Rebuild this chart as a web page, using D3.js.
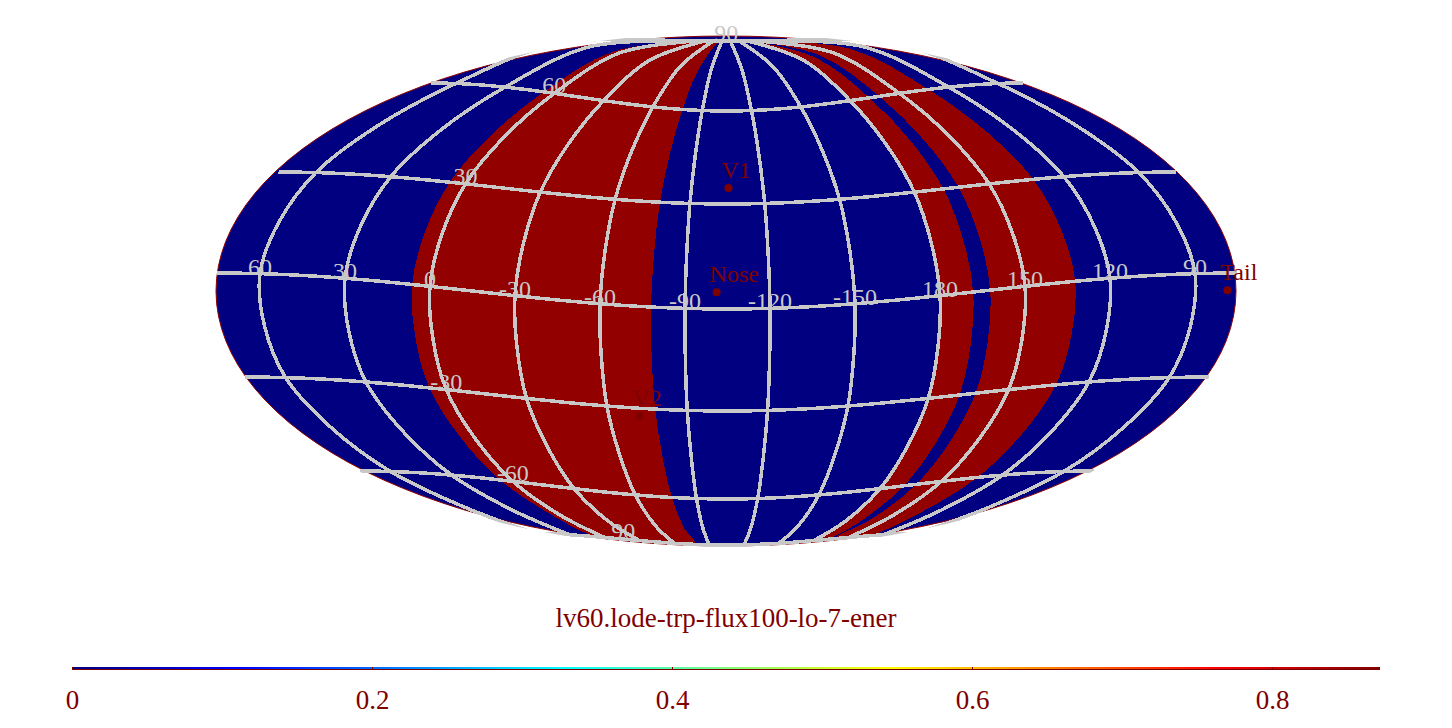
<!DOCTYPE html>
<html>
<head>
<meta charset="utf-8">
<script src="https://cdn.jsdelivr.net/npm/d3@7"></script>
<style>
  html, body { margin: 0; padding: 0; background: #fff; }
  svg { display: block; }
  text { font-family: "Liberation Serif", serif; }
</style>
</head>
<body>
<svg></svg>
<script>
// Sky map values
const centerLon = -105;
const lonTicks = [60, 30, 0, -30, -60, -90, -120, -150, 180, 150, 120, 90];
const latTicks = [90, 60, 30, -30, -60, -90];
const latTickLon = [-105, 0, 0, 0, 0, -16];
const latTickNames = ["90", "60", "30", "-30", "-60", "90"];
const latLines = [90, 60, 30, 0, -30, -60, -90];

// red (high) bands, as lon pairs
const bandFrom = [6.3, 180, 162.3];
const bandTo = [-78, 168.3, 132.3];

// markers
const markerNames = ["Nose", "Tail", "V1", "V2"];
const markerLon = [-101.1, 78, -105.5, -71.6];
const markerLat = [4.7, -4.9, 35, -32.6];

const gridLat = [90, 75, 60, 45, 30, 15, 0, -15, -30, -45, -60, -75, -90];
const gridNarrow = [0.1, 0.36, 0.58, 0.75, 0.88, 0.96, 1, 0.99, 0.945, 0.85, 0.72, 0.56, 0.41];
const gridRow = [41, 70, 111, 156, 204, 256, 309, 361, 411, 457, 499, 529, 545];
const gridDrop = [0, 27, 28, 30, 32, 34, 36, 35, 34, 31, 28, 22, 12];

// Colorbar values
const barTicks = [0, 0.2, 0.4, 0.6, 0.8];
const barMax = 0.872;
const jetColors = ["#00007f", "#0000ff", "#007fff", "#00ffff", "#7fff7f", "#ffff00", "#ff7f00", "#ff0000", "#7f0000"];

const title = "lv60.lode-trp-flux100-lo-7-ener";

// Set SVG attributes as variables
const width = 1452;
const height = 728;
const cx = 726;
const cy = 291;
const rx = 510;
const ry = 255;
const gridShift = 1.5;
const darkRed = "#800000";
const gridGray = "#c8c8c8";

const svg = d3.select("svg").attr("width", width).attr("height", height);

// Scales: lon offset from map centre to px, lat to warp values
const xScale = d3.scaleLinear().domain([-180, 180]).range([gridShift - rx, gridShift + rx]);
const narrow = d3.scaleLinear().domain(gridLat).range(gridNarrow);
const row = d3.scaleLinear().domain(gridLat).range(gridRow);
const drop = d3.scaleLinear().domain(gridLat).range(gridDrop);

function offset(lon) {
  let u = centerLon - lon;
  while (u > 180) u -= 360;
  while (u < -180) u += 360;
  return u;
}

// lat lines sag like a cosine across the map
function place(u, lat) {
  const bend = (1 - Math.cos(u * Math.PI / 180)) / 2;
  return [cx + xScale(u) * narrow(lat), row(lat) - drop(lat) * bend];
}

const line = d3.line().curve(d3.curveCatmullRom);

const meridian = u => gridLat.map(lat => place(u, lat));
const parallel = lat => d3.range(-180, 181, 15).map(u => place(u, lat));

const defs = svg.append("defs");
defs.append("clipPath").attr("id", "sky")
  .append("ellipse").attr("cx", cx).attr("cy", cy).attr("rx", rx).attr("ry", ry);
defs.append("clipPath").attr("id", "rim")
  .append("ellipse").attr("cx", cx).attr("cy", cy).attr("rx", rx + 3).attr("ry", ry + 3);

// Background of the sky
svg.append("ellipse")
  .attr("cx", cx).attr("cy", cy).attr("rx", rx).attr("ry", ry)
  .attr("fill", "#000080")
  .attr("stroke", "#900000")
  .attr("stroke-width", 1);

// Bands
svg.append("g")
    .attr("clip-path", "url(#sky)")
  .selectAll("path")
  .data(d3.range(bandFrom.length))
  .enter()
  .append("path")
    .attr("d", i => line(meridian(offset(bandFrom[i])).concat(meridian(offset(bandTo[i])).reverse())) + "Z")
    .attr("fill", "#930000")
    .attr("shape-rendering", "crispEdges");

// Grid lines
const grid = svg.append("g")
  .attr("clip-path", "url(#rim)")
  .attr("fill", "none")
  .attr("stroke", gridGray)
  .attr("stroke-width", 3.5)
  .attr("shape-rendering", "crispEdges");

grid.selectAll(".meridian")
  .data(lonTicks)
  .enter()
  .append("path")
    .attr("class", "meridian")
    .attr("d", d => line(meridian(offset(d))));

grid.selectAll(".parallel")
  .data(latLines)
  .enter()
  .append("path")
    .attr("class", "parallel")
    .attr("d", d => line(parallel(d)));

// Grid labels
svg.append("g")
    .attr("fill", gridGray)
    .style("font-size", "24px")
    .style("text-anchor", "middle")
  .selectAll("text")
  .data(lonTicks)
  .enter()
  .append("text")
    .text(d => d)
    .attr("x", d => place(offset(d), 0)[0])
    .attr("y", d => place(offset(d), 0)[1] + 1);

svg.append("g")
    .attr("fill", gridGray)
    .style("font-size", "24px")
    .style("text-anchor", "middle")
  .selectAll("text")
  .data(d3.range(latTicks.length))
  .enter()
  .append("text")
    .text(i => latTickNames[i])
    .attr("x", i => place(offset(latTickLon[i]), latTicks[i])[0])
    .attr("y", i => place(offset(latTickLon[i]), latTicks[i])[1]);

// Markers
const markers = svg.append("g").attr("fill", darkRed);

markers.selectAll("circle")
  .data(d3.range(markerNames.length))
  .enter()
  .append("circle")
    .attr("cx", i => place(offset(markerLon[i]), markerLat[i])[0])
    .attr("cy", i => place(offset(markerLon[i]), markerLat[i])[1])
    .attr("r", 4);

markers.selectAll("text")
  .data(d3.range(markerNames.length))
  .enter()
  .append("text")
    .text(i => markerNames[i])
    .attr("x", i => place(offset(markerLon[i]), markerLat[i])[0] - 7)
    .attr("y", i => place(offset(markerLon[i]), markerLat[i])[1] - 10)
    .style("font-size", "24px");

// Title
svg.append("text")
  .text(title)
  .attr("x", 726)
  .attr("y", 627)
  .attr("fill", darkRed)
  .style("font-size", "27px")
  .style("text-anchor", "middle");

// Colorbar
const barScale = d3.scaleLinear().domain([0, barMax]).range([72, 1380]);

const gradient = defs.append("linearGradient").attr("id", "jet");
gradient.selectAll("stop")
  .data(jetColors)
  .enter()
  .append("stop")
    .attr("offset", (d, i) => i / (jetColors.length - 1))
    .attr("stop-color", d => d);

svg.append("rect")
  .attr("x", barScale(0))
  .attr("y", 667)
  .attr("width", barScale(barMax) - barScale(0))
  .attr("height", 2)
  .attr("fill", "url(#jet)");

svg.append("rect")
  .attr("x", barScale(0))
  .attr("y", 669)
  .attr("width", barScale(barMax) - barScale(0))
  .attr("height", 1)
  .attr("fill", darkRed);

const barAxis = d3.axisBottom(barScale)
  .tickValues(barTicks)
  .tickFormat(d3.format("~g"))
  .tickSizeInner(3)
  .tickSizeOuter(0)
  .tickPadding(20);

const barG = svg.append("g")
  .attr("transform", "translate(0,667)")
  .call(barAxis);

barG.select(".domain").attr("stroke", "none");
barG.selectAll("line").attr("stroke", darkRed);
barG.selectAll("text")
  .attr("fill", darkRed)
  .style("font-family", '"Liberation Serif", serif')
  .style("font-size", "27px");
</script>
</body>
</html>
